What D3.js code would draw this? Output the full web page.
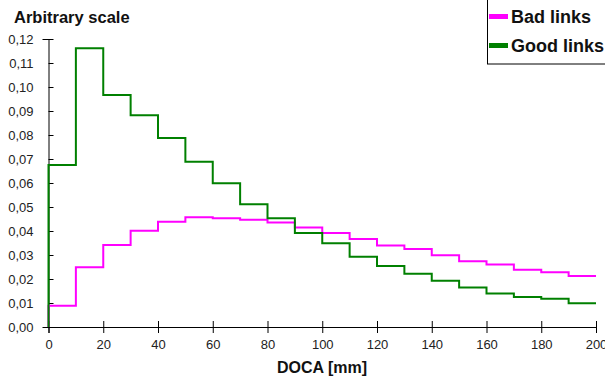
<!DOCTYPE html>
<html>
<head>
<meta charset="utf-8">
<script src="https://cdn.jsdelivr.net/npm/d3@7"></script>
<style>
  body { margin: 0; background: #fff; }
  text { font-family: "Liberation Sans", Arial, sans-serif; }
</style>
</head>
<body>
<script>
const width = 605;
const height = 379;

// DOCA bins, 10 mm wide
const binStarts = [0, 10, 20, 30, 40, 50, 60, 70, 80, 90, 100, 110, 120, 130, 140, 150, 160, 170, 180, 190];
const badLinks = [0.0089, 0.0249, 0.0342, 0.0401, 0.0439, 0.0457, 0.0453, 0.0447, 0.0435, 0.0415,
  0.0392, 0.0367, 0.0340, 0.0325, 0.0299, 0.0274, 0.0260, 0.0239, 0.0228, 0.0212];
const goodLinks = [0.0675, 0.1161, 0.0967, 0.0882, 0.0788, 0.0689, 0.0599, 0.0511, 0.0453, 0.0392,
  0.0349, 0.0293, 0.0254, 0.0222, 0.0193, 0.0165, 0.0140, 0.0125, 0.0118, 0.0099];
const xTicks = [0, 20, 40, 60, 80, 100, 120, 140, 160, 180, 200];
const yTicks = [0, 0.01, 0.02, 0.03, 0.04, 0.05, 0.06, 0.07, 0.08, 0.09, 0.10, 0.11, 0.12];
const seriesNames = ['Bad links', 'Good links'];
const seriesColors = ['#ff00ff', '#008000'];

const svg = d3.select('body')
  .append('svg')
  .attr('width', width)
  .attr('height', height);

const xScale = d3.scaleLinear()
  .domain([0, 200])
  .range([48.5, 596]);

const yScale = d3.scaleLinear()
  .domain([0, 0.12])
  .range([327, 39]);

const comma = d3.formatLocale({ decimal: ',', thousands: '.', grouping: [3], currency: ['', ''] });

const xAxis = d3.axisBottom(xScale)
  .tickValues(xTicks)
  .tickSize(6)
  .tickPadding(7)
  .tickFormat(d3.format('d'));

const yAxis = d3.axisLeft(yScale)
  .tickValues(yTicks)
  .tickSize(6)
  .tickPadding(9)
  .tickFormat(comma.format('.2f'));

const gx = svg.append('g')
  .attr('transform', `translate(0, ${yScale(0)})`)
  .call(xAxis);
gx.selectAll('.tick line').attr('y1', -6);

const gy = svg.append('g')
  .attr('transform', `translate(${xScale(0)}, 0)`)
  .call(yAxis);
gy.selectAll('.tick line').attr('x2', 5);

[gx, gy].forEach(function (g) {
  g.select('.domain').attr('stroke', '#000');
  g.selectAll('.tick line').attr('stroke', '#000');
  g.selectAll('.tick text')
    .attr('fill', '#222')
    .style('font-size', '13px')
    .style('font-family', '"Liberation Sans", Arial, sans-serif');
});

// step lines
function stepPoints(values) {
  const pts = [[0, 0]];
  values.forEach(function (v, i) {
    pts.push([binStarts[i], v]);
  });
  pts.push([binStarts[binStarts.length - 1] + 10, values[values.length - 1]]);
  return pts;
}

const line = d3.line()
  .x(function (d) { return xScale(d[0]); })
  .y(function (d) { return yScale(d[1]); })
  .curve(d3.curveStepAfter);

[badLinks, goodLinks].forEach(function (values, i) {
  svg.append('path')
    .datum(stepPoints(values))
    .attr('d', line)
    .attr('fill', 'none')
    .attr('stroke', seriesColors[i])
    .attr('stroke-width', 2);
});

// titles
svg.append('text')
  .attr('x', 14)
  .attr('y', 23)
  .attr('font-size', '16.5px')
  .attr('font-weight', 'bold')
  .attr('fill', '#111')
  .text('Arbitrary scale');

svg.append('text')
  .attr('x', 322)
  .attr('y', 373)
  .attr('text-anchor', 'middle')
  .attr('font-size', '16px')
  .attr('font-weight', 'bold')
  .attr('fill', '#111')
  .text('DOCA [mm]');

// legend
const legend = svg.append('g');
legend.append('rect')
  .attr('x', 487.5)
  .attr('y', -2)
  .attr('width', 130)
  .attr('height', 66)
  .attr('fill', '#fff')
  .attr('stroke', '#000');

seriesNames.forEach(function (name, i) {
  const y = 16 + i * 29;
  legend.append('rect')
    .attr('x', 489)
    .attr('y', y - 2)
    .attr('width', 19)
    .attr('height', 5)
    .attr('fill', seriesColors[i]);
  legend.append('text')
    .attr('x', 511)
    .attr('y', y + 6.5)
    .attr('font-size', '18px')
    .attr('font-weight', 'bold')
    .attr('fill', '#111')
    .text(name);
});
</script>
</body>
</html>
